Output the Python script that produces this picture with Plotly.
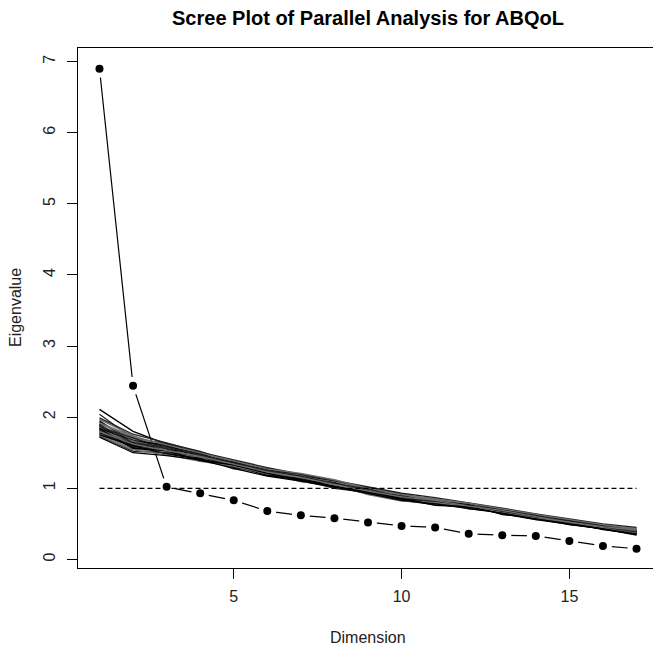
"""Scree plot of parallel analysis (Plotly recreation)."""

import plotly.graph_objs as go

# Dimensions 1..17
dimension = list(range(1, 18))

observed = [6.90, 2.44, 1.02, 0.93, 0.83, 0.68, 0.62, 0.58, 0.52,
            0.47, 0.45, 0.36, 0.34, 0.33, 0.26, 0.19, 0.15]

# Kaiser reference line
threshold_x = [1, 17]
threshold_y = [1, 1]

# Simulated (random data) eigenvalue curves
simulated = [
    [2.11, 1.80, 1.62, 1.50, 1.37, 1.26, 1.19, 1.08, 1.01, 0.90, 0.84, 0.78, 0.71, 0.62, 0.54, 0.47, 0.41],
    [2.04, 1.70, 1.63, 1.52, 1.36, 1.24, 1.14, 1.07, 0.98, 0.86, 0.81, 0.77, 0.69, 0.60, 0.51, 0.45, 0.38],
    [1.97, 1.74, 1.57, 1.44, 1.38, 1.28, 1.17, 1.04, 0.95, 0.89, 0.84, 0.75, 0.67, 0.61, 0.55, 0.48, 0.42],
    [1.95, 1.64, 1.59, 1.49, 1.31, 1.22, 1.18, 1.10, 0.99, 0.85, 0.80, 0.76, 0.70, 0.59, 0.52, 0.44, 0.37],
    [1.93, 1.68, 1.52, 1.47, 1.35, 1.20, 1.13, 1.07, 1.00, 0.92, 0.83, 0.73, 0.66, 0.62, 0.53, 0.49, 0.43],
    [1.91, 1.72, 1.55, 1.42, 1.39, 1.27, 1.12, 1.03, 0.96, 0.88, 0.85, 0.79, 0.68, 0.58, 0.50, 0.46, 0.40],
    [1.90, 1.60, 1.56, 1.48, 1.33, 1.25, 1.16, 1.05, 0.94, 0.86, 0.79, 0.74, 0.69, 0.63, 0.54, 0.45, 0.39],
    [1.89, 1.66, 1.60, 1.43, 1.30, 1.21, 1.15, 1.09, 0.97, 0.84, 0.78, 0.77, 0.71, 0.60, 0.51, 0.47, 0.41],
    [1.88, 1.69, 1.53, 1.46, 1.36, 1.23, 1.11, 1.02, 0.98, 0.90, 0.82, 0.75, 0.65, 0.59, 0.56, 0.48, 0.40],
    [1.87, 1.63, 1.58, 1.45, 1.32, 1.26, 1.19, 1.06, 0.93, 0.87, 0.83, 0.72, 0.67, 0.61, 0.52, 0.43, 0.36],
    [1.86, 1.71, 1.54, 1.41, 1.34, 1.22, 1.14, 1.08, 1.01, 0.86, 0.80, 0.78, 0.70, 0.57, 0.49, 0.46, 0.42],
    [1.85, 1.58, 1.51, 1.47, 1.29, 1.19, 1.13, 1.04, 0.95, 0.91, 0.84, 0.76, 0.66, 0.62, 0.55, 0.47, 0.39],
    [1.84, 1.67, 1.61, 1.44, 1.37, 1.24, 1.10, 1.01, 0.96, 0.85, 0.81, 0.74, 0.69, 0.60, 0.53, 0.44, 0.38],
    [1.83, 1.62, 1.50, 1.46, 1.33, 1.28, 1.18, 1.07, 0.94, 0.88, 0.79, 0.73, 0.68, 0.63, 0.50, 0.45, 0.41],
    [1.82, 1.65, 1.57, 1.40, 1.31, 1.20, 1.16, 1.09, 0.99, 0.89, 0.86, 0.77, 0.64, 0.58, 0.54, 0.49, 0.44],
    [1.81, 1.61, 1.55, 1.48, 1.35, 1.21, 1.12, 1.05, 0.97, 0.83, 0.77, 0.75, 0.70, 0.61, 0.51, 0.44, 0.37],
    [1.80, 1.59, 1.52, 1.43, 1.28, 1.25, 1.17, 1.03, 0.92, 0.87, 0.82, 0.71, 0.67, 0.59, 0.52, 0.46, 0.40],
    [1.79, 1.66, 1.54, 1.45, 1.34, 1.23, 1.09, 1.06, 0.98, 0.86, 0.83, 0.78, 0.65, 0.56, 0.53, 0.48, 0.42],
    [1.78, 1.57, 1.49, 1.42, 1.36, 1.19, 1.14, 1.02, 0.95, 0.89, 0.80, 0.74, 0.69, 0.62, 0.49, 0.43, 0.35],
    [1.77, 1.63, 1.56, 1.39, 1.30, 1.26, 1.15, 1.08, 0.93, 0.84, 0.81, 0.76, 0.66, 0.60, 0.55, 0.47, 0.39],
    [1.76, 1.55, 1.51, 1.44, 1.27, 1.22, 1.18, 1.04, 0.97, 0.88, 0.78, 0.72, 0.68, 0.57, 0.51, 0.45, 0.41],
    [1.75, 1.60, 1.48, 1.41, 1.32, 1.18, 1.11, 1.07, 0.96, 0.85, 0.82, 0.77, 0.63, 0.59, 0.52, 0.42, 0.36],
    [1.74, 1.52, 1.50, 1.46, 1.29, 1.24, 1.13, 1.00, 0.94, 0.90, 0.79, 0.73, 0.67, 0.61, 0.50, 0.46, 0.38],
    [1.73, 1.54, 1.47, 1.38, 1.31, 1.20, 1.16, 1.05, 0.91, 0.82, 0.80, 0.75, 0.66, 0.58, 0.53, 0.44, 0.37],
    [1.72, 1.50, 1.46, 1.40, 1.28, 1.17, 1.10, 1.03, 0.95, 0.86, 0.76, 0.74, 0.64, 0.56, 0.49, 0.43, 0.34],
    [1.99, 1.76, 1.64, 1.51, 1.40, 1.29, 1.20, 1.11, 1.02, 0.93, 0.87, 0.80, 0.72, 0.64, 0.57, 0.50, 0.45],
    [1.92, 1.73, 1.61, 1.50, 1.38, 1.27, 1.21, 1.12, 1.00, 0.91, 0.85, 0.79, 0.71, 0.63, 0.56, 0.49, 0.43],
    [1.84, 1.56, 1.53, 1.39, 1.33, 1.21, 1.12, 1.02, 0.93, 0.83, 0.78, 0.72, 0.65, 0.57, 0.50, 0.44, 0.36],
    [1.88, 1.64, 1.58, 1.47, 1.35, 1.25, 1.17, 1.06, 0.99, 0.87, 0.82, 0.76, 0.68, 0.61, 0.54, 0.47, 0.40],
    [1.80, 1.62, 1.53, 1.45, 1.34, 1.23, 1.15, 1.05, 0.96, 0.88, 0.83, 0.75, 0.69, 0.60, 0.52, 0.46, 0.41],
]

sim_colors = ["#000000", "#222222", "#6e6e6e"]
FONT = "Liberation Sans, Arial, sans-serif"
# the page body adds an 8px offset, so the figure is laid out 8px smaller
W, H = 653, 639

fig = go.Figure()

# observed line, white halos give the R type="b" gaps around the points
fig.add_trace(go.Scatter(x=dimension, y=observed, mode="lines",
                         line=dict(color="black", width=1.2)))
fig.add_trace(go.Scatter(x=dimension, y=observed, mode="markers",
                         marker=dict(color="white", size=18)))

for i, sim in enumerate(simulated):
    fig.add_trace(go.Scatter(x=dimension, y=sim, mode="lines",
                             line=dict(color=sim_colors[i % 3], width=1.3)))

fig.add_trace(go.Scatter(x=threshold_x, y=threshold_y, mode="lines",
                         line=dict(color="black", width=1.2, dash="5px,3px")))

fig.add_trace(go.Scatter(x=dimension, y=observed, mode="markers",
                         marker=dict(color="black", size=8)))

axis_common = dict(
    showgrid=False, zeroline=False, showline=True, linecolor="black",
    linewidth=1, mirror=True, ticks="outside", ticklen=10, tickcolor="black",
    tickfont=dict(family=FONT, size=16, color="#222"),
)

fig.update_layout(
    width=W, height=H,
    paper_bgcolor="white", plot_bgcolor="white",
    showlegend=False,
    margin=dict(l=70, r=3, t=40, b=79),
    title=dict(text="<b>Scree Plot of Parallel Analysis for ABQoL</b>",
               x=0.5, xref="paper", y=1 - 10 / H, yanchor="middle",
               font=dict(family=FONT, size=20, color="black")),
    xaxis=dict(range=[0.36, 17.64], tickvals=[5, 10, 15],
               ticklabelstandoff=4, **axis_common),
    yaxis=dict(range=[-0.121, 7.191], tickvals=list(range(8)), tickangle=-90,
               ticklabelstandoff=6, **axis_common),
    annotations=[
        dict(text="Dimension", xref="paper", yref="paper", x=0.5,
             y=-69 / 520, yanchor="middle", xanchor="center",
             showarrow=False, font=dict(family=FONT, size=16, color="#222")),
        dict(text="Eigenvalue", xref="paper", yref="paper", x=-63 / 580,
             y=0.5, xanchor="center", yanchor="middle", textangle=-90,
             showarrow=False, font=dict(family=FONT, size=16, color="#222")),
    ],
)

fig.write_html("out.html")
